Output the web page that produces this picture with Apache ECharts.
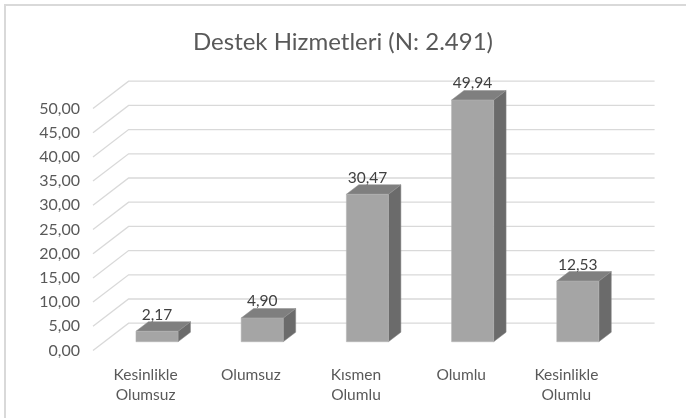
<!DOCTYPE html>
<html>
<head>
<meta charset="utf-8">
<style>
  html, body { margin: 0; padding: 0; background: #fff; }
  #chart { width: 686px; height: 418px; }
</style>
<script src="https://cdn.jsdelivr.net/npm/echarts@6/dist/echarts.min.js"></script>
</head>
<body>
<div id="chart"></div>
<script>
const categories = ["Kesinlikle\nOlumsuz", "Olumsuz", "Kısmen\nOlumlu", "Olumlu", "Kesinlikle\nOlumlu"];
const values = [2.17, 4.9, 30.47, 49.94, 12.53];
const yTicks = [0, 5, 10, 15, 20, 25, 30, 35, 40, 45, 50];

// oblique depth of the 3D box (pixels), bars sit between front/back fractions
const DEPTH = [35.6, -27.3];
const BAR_FRONT = 0.32;
const BAR_BACK = 0.67;
const BAR_WIDTH = 0.4;

const fmt = (v) => v.toFixed(2).replace(".", ",");
const font = "Lato, 'Open Sans', sans-serif";

const chart = echarts.init(document.getElementById("chart"));

function renderGridLine(params, api) {
  const v = api.value(1);
  const bw = api.size([1, 0])[0];
  const left = api.coord([0, v]);
  const right = api.coord([categories.length - 1, v]);
  const x0 = left[0] - bw / 2;
  const x1 = right[0] + bw / 2;
  const y = left[1];
  return {
    type: "polyline",
    shape: {
      points: [
        [x0, y],
        [x0 + DEPTH[0], y + DEPTH[1]],
        [x1 + DEPTH[0], y + DEPTH[1]],
      ],
    },
    style: { stroke: "#d9d9d9", lineWidth: 1.3, fill: null },
    silent: true,
  };
}

function renderBar(params, api) {
  const i = api.value(0);
  const v = api.value(1);
  const bw = api.size([1, 0])[0];
  const top = api.coord([i, v]);
  const base = api.coord([i, 0]);
  const w = bw * BAR_WIDTH;
  const fx = top[0] - w / 2 + BAR_FRONT * DEPTH[0];
  const fyTop = top[1] + BAR_FRONT * DEPTH[1];
  const fyBot = base[1] + BAR_FRONT * DEPTH[1];
  const dx = (BAR_BACK - BAR_FRONT) * DEPTH[0];
  const dy = (BAR_BACK - BAR_FRONT) * DEPTH[1];
  return {
    type: "group",
    children: [
      {
        type: "polygon",
        shape: { points: [[fx + w, fyTop], [fx + w + dx, fyTop + dy], [fx + w + dx, fyBot + dy], [fx + w, fyBot]] },
        style: { fill: "#6b6b6b", stroke: "#8a8a8a", lineWidth: 0.5 },
      },
      {
        type: "polygon",
        shape: { points: [[fx, fyTop], [fx + w, fyTop], [fx + w + dx, fyTop + dy], [fx + dx, fyTop + dy]] },
        style: { fill: "#7f7f7f", stroke: "#8f8f8f", lineWidth: 0.5 },
      },
      {
        type: "rect",
        shape: { x: fx, y: fyTop, width: w, height: fyBot - fyTop },
        style: { fill: "#a5a5a5", stroke: "#b5b5b5", lineWidth: 0.5 },
      },
      {
        type: "text",
        x: fx + w / 2,
        y: fyTop + dy + 1,
        style: {
          text: fmt(v),
          fill: "#404040",
          font: "15.5px " + font,
          align: "center",
          verticalAlign: "bottom",
        },
      },
    ],
  };
}

chart.setOption({
  backgroundColor: "#fff",
  animation: false,
  title: {
    text: "Destek Hizmetleri (N: 2.491)",
    left: "center",
    top: 25,
    textStyle: { fontFamily: font, fontSize: 24, fontWeight: "normal", color: "#595959" },
  },
  graphic: [
    {
      type: "rect",
      shape: { x: 5, y: 5, width: 700, height: 430 },
      style: { fill: null, stroke: "#d9d9d9", lineWidth: 2 },
      silent: true,
    },
  ],
  grid: { left: 93, right: 67, top: 108.5, bottom: 67.5 },
  xAxis: {
    type: "category",
    data: categories,
    axisLine: { show: false },
    axisTick: { show: false },
    axisLabel: { color: "#595959", fontFamily: font, fontSize: 15.5, lineHeight: 20, margin: 14, interval: 0 },
  },
  yAxis: {
    type: "value",
    min: 0,
    max: 50,
    interval: 5,
    axisLine: { show: false },
    axisTick: { show: false },
    splitLine: { show: false },
    axisLabel: { color: "#595959", fontFamily: font, fontSize: 16, margin: 13, formatter: fmt },
  },
  series: [
    {
      type: "custom",
      clip: false,
      z: 1,
      renderItem: renderGridLine,
      data: yTicks.map((v) => [0, v]),
    },
    {
      type: "custom",
      clip: false,
      z: 2,
      renderItem: renderBar,
      data: values.map((v, i) => [i, v]),
    },
  ],
});
</script>
</body>
</html>
